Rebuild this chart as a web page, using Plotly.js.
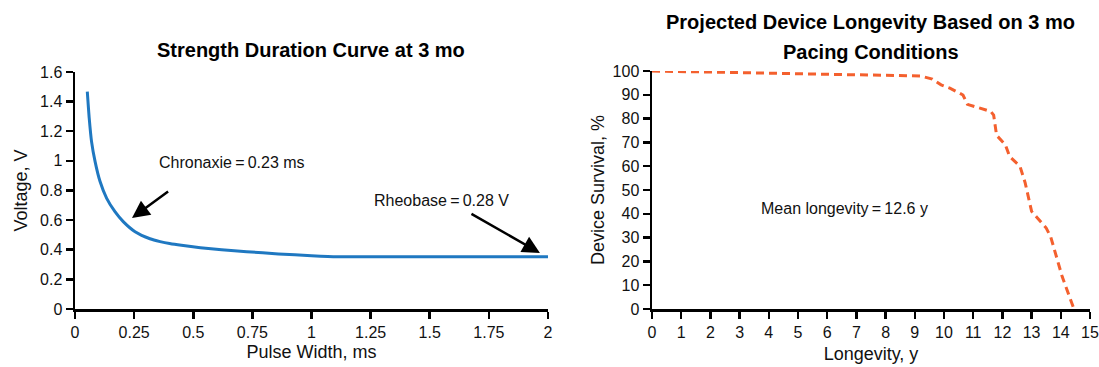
<!DOCTYPE html>
<html>
<head>
<meta charset="utf-8">
<script src="https://cdn.plot.ly/plotly-3.0.1.min.js"></script>
<style>html,body{margin:0;padding:0;background:#fff;}#chart{width:1099px;height:367px;}</style>
</head>
<body>
<div id="chart"></div>
<script>
// Strength duration curve (left)
var pulseWidth = [0.052, 0.060, 0.070, 0.085, 0.106, 0.134, 0.169, 0.204, 0.254, 0.317, 0.36, 0.40, 0.45, 0.53, 0.62, 0.726, 0.86, 1.0, 1.107, 1.3, 1.5, 1.75, 2.0];
var voltage    = [1.467, 1.29, 1.13, 0.995, 0.86, 0.747, 0.657, 0.59, 0.522, 0.474, 0.455, 0.442, 0.43, 0.414, 0.40, 0.387, 0.372, 0.36, 0.353, 0.353, 0.353, 0.353, 0.353];
var xTicksLeft = [0, 0.25, 0.5, 0.75, 1, 1.25, 1.5, 1.75, 2];
var yTicksLeft = [0, 0.2, 0.4, 0.6, 0.8, 1, 1.2, 1.4, 1.6];

// Projected device longevity (right)
var years    = [0, 2, 4, 6, 8, 9.2, 9.6, 9.9, 10.2, 10.65, 10.8, 11.6, 11.7, 11.8, 12.1, 12.25, 12.6, 12.78, 13.0, 13.5, 13.65, 14.05, 14.45];
var survival = [100, 99.6, 99.2, 98.8, 98.4, 97.9, 96.6, 94.2, 92.8, 89.9, 86, 83, 81.5, 73, 69, 64, 60, 53, 41, 34, 30.5, 13.5, 0];
var xTicksRight = [0,1,2,3,4,5,6,7,8,9,10,11,12,13,14,15];
var yTicksRight = [0,10,20,30,40,50,60,70,80,90,100];

var FONT = "'Liberation Sans', Arial, sans-serif";

var traces = [
  {x: pulseWidth, y: voltage, xaxis: 'x', yaxis: 'y', mode: 'lines',
   line: {color: '#1f78c1', width: 3, shape: 'spline', smoothing: 0.5}, hoverinfo: 'skip'},
  {x: years, y: survival, xaxis: 'x2', yaxis: 'y2', mode: 'lines',
   line: {color: '#f4602e', width: 3, dash: '8px,5px'}, hoverinfo: 'skip'}
];

var axisCommon = {
  showgrid: false, zeroline: false, showline: true, linecolor: '#000', linewidth: 2.5,
  ticks: 'outside', ticklen: 7, tickwidth: 2.5, tickcolor: '#000',
  tickfont: {family: FONT, size: 16, color: '#111'}, fixedrange: true,
  ticklabeloverflow: 'allow'
};

function ax(extra) { return Object.assign({}, axisCommon, extra); }

var titleFont = {family: FONT, size: 18, color: '#111'};

var layout = {
  width: 1099, height: 367,
  margin: {l: 75, r: 9, t: 71, b: 58},
  paper_bgcolor: '#fff', plot_bgcolor: '#fff',
  showlegend: false,
  font: {family: FONT, color: '#111'},
  xaxis: ax({domain: [0, 0.466], range: [0, 2], tickmode: 'array', tickvals: xTicksLeft,
             ticktext: xTicksLeft.map(String), anchor: 'y',
             title: {text: 'Pulse Width, ms', font: titleFont, standoff: 6}}),
  yaxis: ax({domain: [0, 0.996], range: [0, 1.6], tickmode: 'array', tickvals: yTicksLeft,
             ticktext: yTicksLeft.map(String), anchor: 'x',
             title: {text: 'Voltage, V', font: titleFont, standoff: 8}}),
  xaxis2: ax({domain: [0.5685, 1], range: [0, 15], tickmode: 'array', tickvals: xTicksRight,
             ticktext: xTicksRight.map(String), anchor: 'y2',
             title: {text: 'Longevity, y', font: titleFont, standoff: 8}}),
  yaxis2: ax({domain: [0, 1], range: [0, 100], tickmode: 'array', tickvals: yTicksRight,
             ticktext: yTicksRight.map(String), anchor: 'x2',
             title: {text: 'Device Survival, %', font: titleFont, standoff: 4}}),
  annotations: [
    {xref: 'paper', yref: 'paper', x: 0.233, y: 1.088, xanchor: 'center', yanchor: 'middle',
     text: '<b>Strength Duration Curve at 3 mo</b>', showarrow: false,
     font: {family: FONT, size: 20, color: '#000'}},
    {xref: 'paper', yref: 'paper', x: 0.784, y: 1.206, xanchor: 'center', yanchor: 'middle',
     text: '<b>Projected Device Longevity Based on 3 mo</b>', showarrow: false,
     font: {family: FONT, size: 20, color: '#000'}},
    {xref: 'paper', yref: 'paper', x: 0.784, y: 1.080, xanchor: 'center', yanchor: 'middle',
     text: '<b>Pacing Conditions</b>', showarrow: false,
     font: {family: FONT, size: 20, color: '#000'}},
    {xref: 'x', yref: 'y', x: 0.347, y: 0.99, xanchor: 'left', yanchor: 'middle',
     text: 'Chronaxie\u2009=\u20090.23 ms', showarrow: false,
     font: {family: FONT, size: 16, color: '#111'}},
    {xref: 'x', yref: 'y', x: 0.241, y: 0.614, ax: 0.40, ay: 0.80, axref: 'x', ayref: 'y',
     text: '', showarrow: true, arrowhead: 2, arrowsize: 1.4, arrowwidth: 2.5, arrowcolor: '#000'},
    {xref: 'x', yref: 'y', x: 1.256, y: 0.735, xanchor: 'left', yanchor: 'middle',
     text: 'Rheobase\u2009=\u20090.28 V', showarrow: false,
     font: {family: FONT, size: 16, color: '#111'}},
    {xref: 'x', yref: 'y', x: 1.966, y: 0.378, ax: 1.67, ay: 0.648, axref: 'x', ayref: 'y',
     text: '', showarrow: true, arrowhead: 2, arrowsize: 1.4, arrowwidth: 2.5, arrowcolor: '#000'},
    {xref: 'x2', yref: 'y2', x: 6.6, y: 42.4, xanchor: 'center', yanchor: 'middle',
     text: 'Mean longevity\u2009=\u200912.6 y', showarrow: false,
     font: {family: FONT, size: 16, color: '#111'}}
  ]
};

Plotly.newPlot('chart', traces, layout, {staticPlot: true, displayModeBar: false});
</script>
</body>
</html>
